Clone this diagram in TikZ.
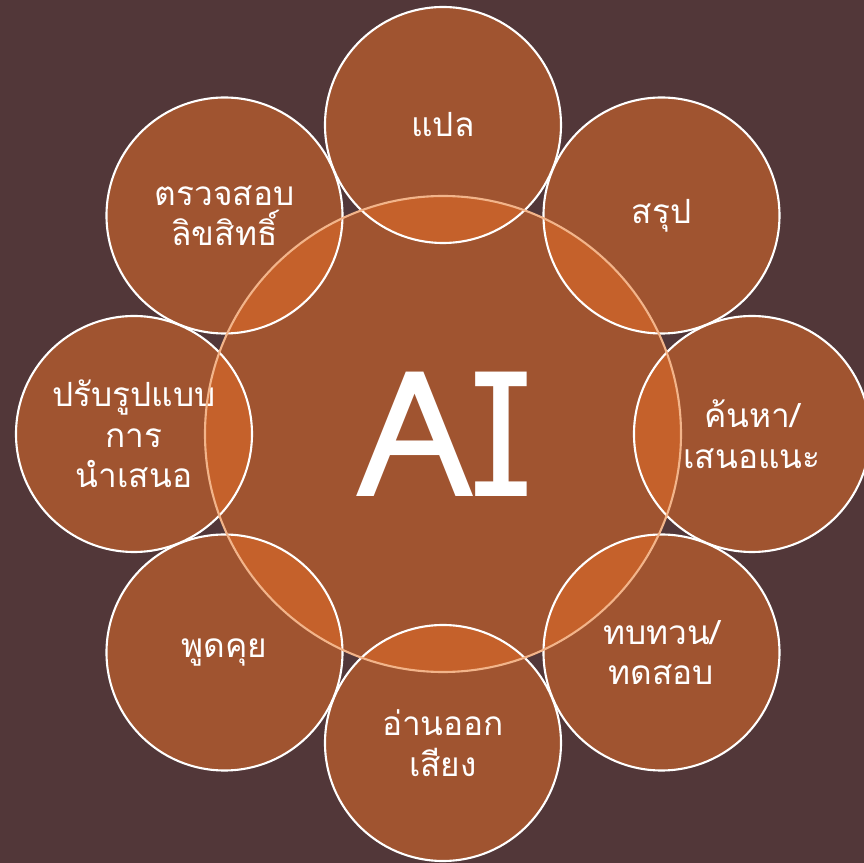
\documentclass[tikz,border=0pt]{standalone}
\usepackage{fontspec}
\newfontfamily\thaifont[Script=Thai]{Loma}
\definecolor{backdrop}{RGB}{82,55,57}
\definecolor{petal}{RGB}{230,110,40}
\definecolor{peach}{RGB}{242,180,138}
\tikzset{
  task/.style={circle, minimum size=4.72cm, inner sep=0pt, fill=petal, fill opacity=0.53,
    text opacity=1, draw=white, line width=1.2pt, text=white, align=center,
    font=\thaifont\fontsize{19}{23}\selectfont},
  hub/.style={circle, minimum size=9.52cm, inner sep=0pt, fill=petal, fill opacity=0.53,
    text opacity=1, text=white, font=\thaifont\fontsize{100}{100}\selectfont}
}
\begin{document}
\begin{tikzpicture}
        \useasboundingbox (-8.86,-8.58) rectangle (8.42,8.68);
        \fill[backdrop] (-8.86,-8.58) rectangle (8.42,8.68);

        \node[hub] at (0, 0)          (ai)  {AI};

        \node[task] at (0, 6.18)         (translate)  {แปล};
        \node[task] at (4.37, 4.37)      (summary)    {สรุป};
        \node[task] at (6.18, 0)         (search)     {ค้นหา/\\เสนอแนะ};
        \node[task] at (4.37, -4.37)     (review)     {ทบทวน/\\ทดสอบ};
        \node[task] at (0, -6.18)        (readaloud)  {อ่านออก\\เสียง};
        \node[task] at (-4.37, -4.37)    (talk)       {พูดคุย};
        \node[task] at (-6.18, 0)        (present)    {ปรับรูปแบบ\\การ\\นำเสนอ};
        \node[task] at (-4.37, 4.37)     (copyright)  {ตรวจสอบ\\ลิขสิทธิ์};

        \draw[peach, line width=1.2pt] (ai.center) circle[radius=4.76];
\end{tikzpicture}
\end{document}
